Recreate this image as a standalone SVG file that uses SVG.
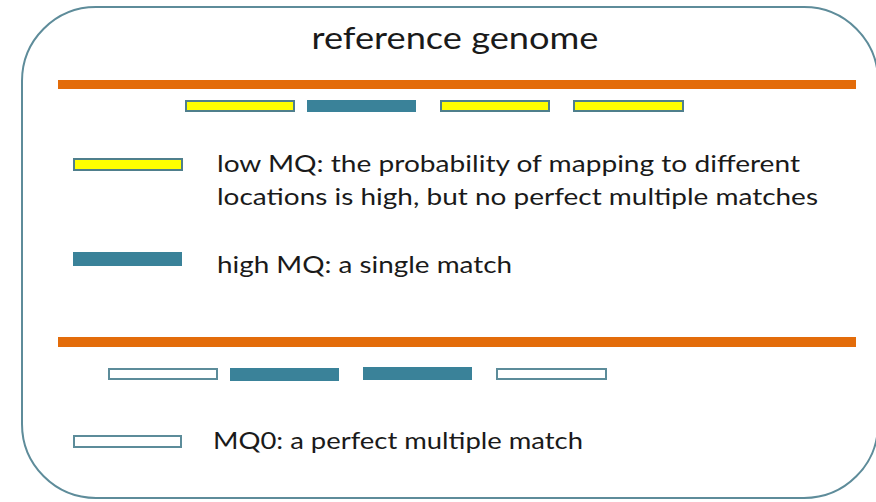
<svg xmlns="http://www.w3.org/2000/svg" width="876" height="502" viewBox="0 0 876 502">
<style>
text{font-family:Lato,"Open Sans","Liberation Sans",sans-serif;fill:#1a1a1a}
.t{font-size:24px}
.gen{fill:#e36c0a}
.y{fill:#ffff00;stroke:#4f7f8c;stroke-width:2}
.h{fill:#3a8299}
.m{fill:#ffffff;stroke:#5c8c9a;stroke-width:2}
</style>
<rect x="22" y="7" width="856" height="491" rx="74" ry="74" fill="#ffffff" stroke="#5e8c9a" stroke-width="2"/>
<text x="455" y="49" text-anchor="middle" font-size="30" textLength="287" lengthAdjust="spacingAndGlyphs">reference genome</text>
<g id="genome1"><rect class="gen" x="58" y="80" width="798" height="9"/></g>
<g id="reads1">
<rect class="y" x="186" y="101" width="108" height="10"/>
<rect class="h" x="307" y="100" width="109" height="12"/>
<rect class="y" x="441" y="101" width="108" height="10"/>
<rect class="y" x="574" y="101" width="109" height="10"/>
</g>
<g id="legend-low">
<rect class="y" x="74" y="159" width="108" height="11"/>
<text class="t" x="217" y="172" textLength="583" lengthAdjust="spacingAndGlyphs">low MQ: the probability of mapping to different</text>
<text class="t" x="217" y="205" textLength="601" lengthAdjust="spacingAndGlyphs">locations is high, but no perfect multiple matches</text>
</g>
<g id="legend-high">
<rect class="h" x="73" y="252" width="109" height="14"/>
<text class="t" x="217" y="273" textLength="295" lengthAdjust="spacingAndGlyphs">high MQ: a single match</text>
</g>
<g id="genome2"><rect class="gen" x="58" y="337" width="798" height="10"/></g>
<g id="reads2">
<rect class="m" x="109" y="369" width="108" height="10"/>
<rect class="h" x="230" y="368" width="109" height="13"/>
<rect class="h" x="363" y="367" width="109" height="13"/>
<rect class="m" x="497" y="369" width="109" height="10"/>
</g>
<g id="legend-mq0">
<rect class="m" x="74" y="436" width="107" height="11"/>
<text class="t" x="213" y="449" textLength="370" lengthAdjust="spacingAndGlyphs">MQ0: a perfect multiple match</text>
</g>
</svg>
